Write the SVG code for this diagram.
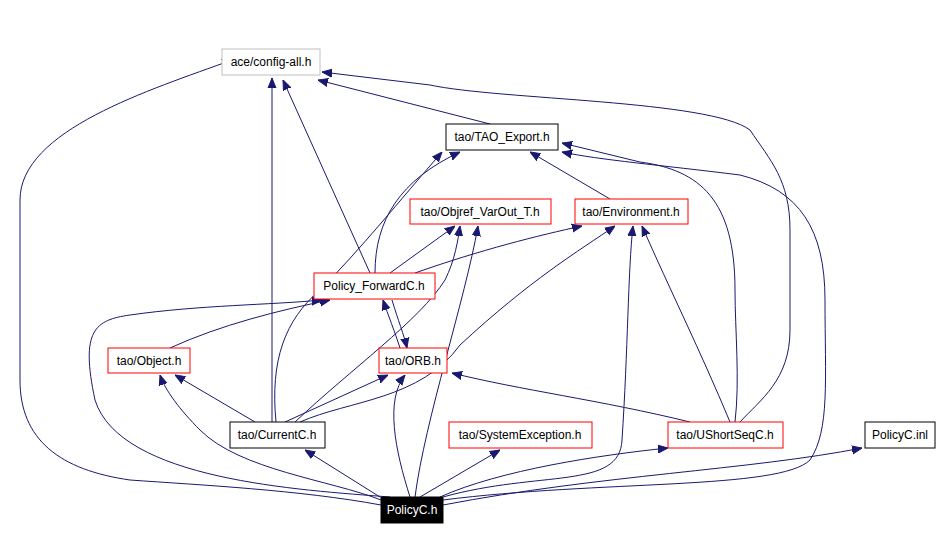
<svg xmlns="http://www.w3.org/2000/svg" width="939" height="540" viewBox="0 0 939 540">
<style>
.n rect{fill:#fff;stroke:#f00;stroke-width:1}
.n text{font-family:"Liberation Sans",Arial,sans-serif;font-size:12px;text-anchor:middle;fill:#000}
#e path{fill:none;stroke:#191970;stroke-width:1}
</style>
<defs><marker id="a" viewBox="0 0 10 10" refX="10" refY="5" markerWidth="10" markerHeight="10" markerUnits="userSpaceOnUse" orient="auto"><path d="M0,1 L10,5 L0,9 z" fill="#191970" stroke="#191970"/></marker></defs>
<rect width="939" height="540" fill="#fff"/>
<g id="e" marker-end="url(#a)">
<path d="M381,505 C300,490 200,485 130,480 C60,470 20,440 20,380 L20,200 C20,130 150,90 232,60"/>
<path d="M380,497 L305,450"/>
<path d="M420,497 L500,450"/>
<path d="M440,497 C500,470 600,455 668,448"/>
<path d="M443,505 C600,475 750,470 862,448"/>
<path d="M381,500 C330,480 240,470 200,430 C180,410 165,390 160,375"/>
<path d="M410,497 C395,450 385,400 405,375"/>
<path d="M415,497 C425,420 465,300 478,226"/>
<path d="M443,497 C540,470 620,490 622,440 C628,350 628,270 633,226"/>
<path d="M390,497 C300,490 120,480 95,400 C80,330 95,320 130,315 C200,305 270,305 322,300"/>
<path d="M443,500 C600,480 780,490 810,460 C830,430 825,380 825,300 C825,230 800,190 740,175 C660,165 600,160 562,152"/>
<path d="M272,422 L272,78"/>
<path d="M276,422 C270,360 285,320 320,290 C360,250 400,200 442,152"/>
<path d="M255,422 L175,375"/>
<path d="M285,422 L388,375"/>
<path d="M300,422 C350,400 420,400 460,345 C530,280 580,250 615,226"/>
<path d="M295,422 C350,370 420,320 445,280 C455,260 458,240 460,226"/>
<path d="M370,273 L283,80"/>
<path d="M375,273 C375,220 400,180 460,152"/>
<path d="M390,273 L455,226"/>
<path d="M415,273 C480,250 540,235 582,226"/>
<path d="M392,300 C398,320 404,335 407,348"/>
<path d="M400,348 C395,332 388,315 383,300"/>
<path d="M170,348 C220,325 280,310 330,300"/>
<path d="M490,124 L318,80"/>
<path d="M610,199 L530,152"/>
<path d="M740,422 C760,400 790,380 790,330 L790,230 C790,180 770,160 750,130 C710,100 500,100 430,85 L322,72"/>
<path d="M735,422 C740,380 735,330 735,290 C735,200 700,170 640,162 L562,143"/>
<path d="M690,422 C600,400 520,390 452,373"/>
<path d="M730,422 C700,350 670,290 642,226"/>
</g>
<g id="ace" class="n"><rect x="222" y="49" width="98" height="26" style="stroke:#bfbfbf"/><text x="271" y="66">ace/config-all.h</text></g>
<g id="tao_export" class="n"><rect x="446" y="124" width="112" height="26" style="stroke:#000"/><text x="502" y="141">tao/TAO_Export.h</text></g>
<g id="objref" class="n"><rect x="410" y="199" width="141" height="25"/><text x="480" y="216">tao/Objref_VarOut_T.h</text></g>
<g id="env" class="n"><rect x="575" y="199" width="113" height="25"/><text x="631" y="216">tao/Environment.h</text></g>
<g id="pfwd" class="n"><rect x="314" y="273" width="121" height="26"/><text x="374" y="290">Policy_ForwardC.h</text></g>
<g id="object" class="n"><rect x="108" y="348" width="82" height="25"/><text x="149" y="365">tao/Object.h</text></g>
<g id="orb" class="n"><rect x="379" y="348" width="68" height="25"/><text x="413" y="365">tao/ORB.h</text></g>
<g id="current" class="n"><rect x="230" y="422" width="95" height="26" style="stroke:#000"/><text x="277" y="439">tao/CurrentC.h</text></g>
<g id="sysex" class="n"><rect x="449" y="422" width="143" height="26"/><text x="520" y="439">tao/SystemException.h</text></g>
<g id="ushort" class="n"><rect x="668" y="422" width="115" height="26"/><text x="725" y="439">tao/UShortSeqC.h</text></g>
<g id="inl" class="n"><rect x="865" y="422" width="70" height="26" style="stroke:#000"/><text x="900" y="439">PolicyC.inl</text></g>
<g id="policyc" class="n"><rect x="381" y="497" width="62" height="26" style="fill:#000;stroke:#000"/><text x="412" y="514" style="fill:#fff">PolicyC.h</text></g>
</svg>
